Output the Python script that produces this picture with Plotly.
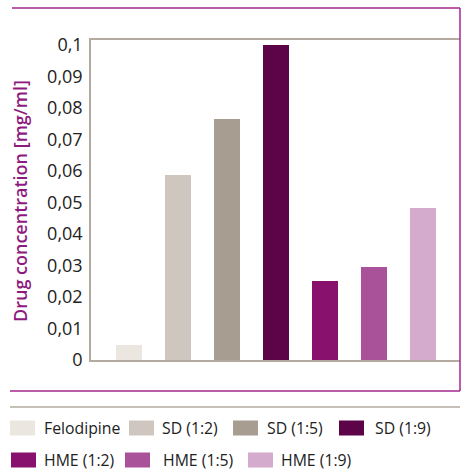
import plotly.graph_objects as go

categories = ["Felodipine", "SD (1:2)", "SD (1:5)", "SD (1:9)", "HME (1:2)", "HME (1:5)", "HME (1:9)"]
values = [0.0048, 0.0587, 0.0765, 0.1, 0.0251, 0.0295, 0.0483]
colors = ["#ebe7e0", "#cec6bf", "#a89d91", "#5c0447", "#87116d", "#a9529a", "#d4aacd"]
tick_vals = [0, 0.01, 0.02, 0.03, 0.04, 0.05, 0.06, 0.07, 0.08, 0.09, 0.1]
tick_text = ["0", "0,01", "0,02", "0,03", "0,04", "0,05", "0,06", "0,07", "0,08", "0,09", "0,1"]

W, H = 461, 470
L, R, T, B = 91, 460, 40, 360
FONT = "Open Sans"
GRAY = "#b3aaa0"
PURPLE = "#a3288f"

def px(x):
    return (x - L) / (R - L)

def py(y):
    return (B - y) / (B - T)

fig = go.Figure()
fig.add_trace(go.Bar(
    x=list(range(len(categories))), y=values, marker=dict(color=colors, line=dict(width=0)),
    width=0.53, hovertext=categories, showlegend=False,
))

shapes = []
# outer purple frame (open on left)
shapes.append(dict(type="line", xref="paper", yref="paper", x0=px(12), x1=px(460), y0=py(8), y1=py(8),
                   line=dict(color=PURPLE, width=1.5)))
shapes.append(dict(type="line", xref="paper", yref="paper", x0=px(460), x1=px(460), y0=py(8), y1=py(391),
                   line=dict(color=PURPLE, width=1.5)))
shapes.append(dict(type="line", xref="paper", yref="paper", x0=px(10), x1=px(460), y0=py(391), y1=py(391),
                   line=dict(color=PURPLE, width=1.5)))
# legend separator
shapes.append(dict(type="line", xref="paper", yref="paper", x0=px(10), x1=px(460), y0=py(407), y1=py(407),
                   line=dict(color=GRAY, width=1.5)))

annotations = []
# manual legend
leg_pos = [(10, 42, 428), (129, 160, 428), (233, 265, 428), (339, 373, 428),
           (11, 42, 460), (125, 161, 460), (248, 279, 460)]
for (sx, tx, cy), name, col in zip(leg_pos, categories, colors):
    shapes.append(dict(type="rect", xref="paper", yref="paper", x0=px(sx), x1=px(sx + 25),
                       y0=py(cy - 7.5), y1=py(cy + 7.5), fillcolor=col, line=dict(width=0)))
    annotations.append(dict(xref="paper", yref="paper", x=px(tx), y=py(cy), text=name, showarrow=False,
                            xanchor="left", yanchor="middle", font=dict(family=FONT, size=15.8, color="#222222")))

annotations.append(dict(xref="paper", yref="paper", x=px(20), y=py(201), text="Drug concentration [mg/ml]",
                        textangle=-90, showarrow=False, xanchor="center", yanchor="middle",
                        font=dict(family=FONT, size=18, color="#8e1a7e", weight=600)))

fig.update_layout(
    width=W, height=H,
    margin=dict(l=L, r=W - R, t=T, b=H - B, pad=0),
    paper_bgcolor="white", plot_bgcolor="white",
    shapes=shapes, annotations=annotations,
    font=dict(family=FONT),
    bargap=0,
)
fig.update_xaxes(range=[-0.765, 6.755], showticklabels=False, showgrid=False, zeroline=False,
                 showline=True, linecolor=GRAY, linewidth=1.5, mirror=True, ticks="")
fig.update_yaxes(range=[0, 0.1016], tickvals=tick_vals, ticktext=tick_text, showgrid=False, zeroline=False,
                 showline=True, linecolor=GRAY, linewidth=1.5, mirror=False, ticks="",
                 ticklabelstandoff=3, tickfont=dict(family=FONT, size=18, color="#222222"))

fig.write_html("out.html", config={"displayModeBar": False},
               post_script="document.body.style.margin='0';document.body.style.overflow='hidden';")
